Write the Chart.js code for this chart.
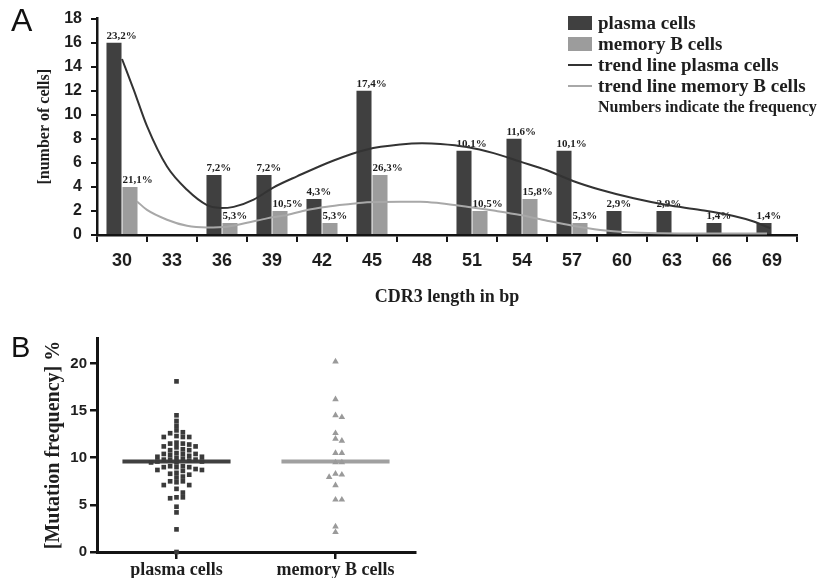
<!DOCTYPE html>
<html>
<head>
<meta charset="utf-8">
<script src="https://cdn.jsdelivr.net/npm/chart.js@4.4.1/dist/chart.umd.min.js"></script>
<style>
  html, body { margin: 0; padding: 0; background: #fff; }
  #page { position: relative; width: 835px; height: 578px; overflow: hidden; }
  #chart-a, #trend-a { position: absolute; left: 0; top: 0; }
  #chart-b { position: absolute; left: 0; top: 320px; }
  .panel-tag { position: absolute; font: 32px "Liberation Sans", Arial, sans-serif; line-height: 1; color: #111; }
  #legend-a { position: absolute; left: 568px; top: 12px; margin: 0; padding: 0; list-style: none;
    font: bold 19px "Liberation Serif", "Times New Roman", serif; color: #1e1e1e; }
  #legend-a li { display: flex; align-items: center; height: 21px; white-space: nowrap; }
  .legend-swatch { display: inline-block; width: 24px; height: 14px; margin-right: 6px; }
  .legend-stroke { display: inline-block; width: 24px; height: 2px; margin-right: 6px; }
  .legend-note { font-size: 16px; padding-left: 30px; }
</style>
</head>
<body>
<div id="page">
  <canvas id="chart-a" width="835" height="310"></canvas>
  <canvas id="trend-a" width="835" height="310"></canvas>
  <canvas id="chart-b" width="440" height="258"></canvas>
  <div class="panel-tag" style="left:11px;top:4px;">A</div>
  <div class="panel-tag" style="left:11px;top:333px;font-size:29px;">B</div>
  <ul id="legend-a"></ul>
</div>
<script>
// panel A: CDR3 length distribution
const cdr3Lengths = ['30', '33', '36', '39', '42', '45', '48', '51', '54', '57', '60', '63', '66', '69'];
const plasmaCounts = [16, 0, 5, 5, 3, 12, 0, 7, 8, 7, 2, 2, 1, 1];
const memoryCounts = [4, 0, 1, 2, 1, 5, 0, 2, 3, 1, 0, 0, 0, 0];
const plasmaFreq = ['23,2%', '', '7,2%', '7,2%', '4,3%', '17,4%', '', '10,1%', '11,6%', '10,1%', '2,9%', '2,9%', '1,4%', '1,4%'];
const memoryFreq = ['21,1%', '', '5,3%', '10,5%', '5,3%', '26,3%', '', '10,5%', '15,8%', '5,3%', '', '', '', ''];

// trend lines (x in bp, y in cells)
const plasmaTrendBp = [30.0, 30.7, 31.5, 32.7, 33.9, 35.1, 35.9, 36.7, 37.9, 39.1, 40.5, 42.7, 44.7, 46.7, 48.0, 49.1, 50.7, 52.3, 53.9, 55.5, 57.1, 58.7, 60.7, 62.7, 64.7, 66.7, 67.9, 68.9];
const plasmaTrendCells = [14.4, 11.9, 8.9, 5.6, 3.7, 2.45, 2.2, 2.3, 2.9, 3.9, 4.8, 6.1, 7.0, 7.4, 7.5, 7.45, 7.2, 6.7, 6.0, 5.3, 4.4, 3.7, 3.0, 2.45, 2.05, 1.55, 1.1, 0.55];
const memoryTrendBp = [30.9, 31.5, 32.7, 33.9, 35.1, 36.3, 37.5, 38.7, 39.9, 41.1, 42.3, 43.7, 44.7, 46.7, 47.9, 49.1, 50.7, 52.3, 53.9, 55.5, 57.1, 58.7, 60.3, 62.3, 65.0, 68.7];
const memoryTrendCells = [2.75, 2.05, 1.25, 0.75, 0.62, 0.68, 1.0, 1.36, 1.64, 2.05, 2.32, 2.54, 2.68, 2.73, 2.73, 2.6, 2.32, 2.0, 1.64, 1.17, 0.74, 0.41, 0.22, 0.14, 0.12, 0.12];

// panel B: mutation frequency per cell
const groupNames = ['plasma cells', 'memory B cells'];
const plasmaMutation = [
  18.1, 14.5, 13.9, 13.4, 12.9, 12.6, 12.7, 12.2, 12.2, 12.3, 12.2,
  11.5, 11.4, 11.5, 11.6, 11.2, 11.1, 11.2, 10.8, 10.9, 10.8,
  10.4, 10.4, 10.3, 10.5, 10.4, 10.1, 10.0, 10.1, 10.2,
  9.8, 9.8, 9.7, 9.9, 9.8, 9.5, 9.6, 9.5, 9.6,
  9.1, 9.0, 9.1, 9.0, 9.0, 8.7, 8.8, 8.7, 8.6, 8.4, 8.3, 8.2,
  7.9, 8.0, 7.5, 7.4, 7.5, 7.1, 7.1, 6.7, 6.3, 5.8, 5.7, 5.8,
  4.8, 4.2, 2.4, 0.0
];
const memoryMutation = [20.2, 16.2, 14.3, 14.5, 12.6, 11.8, 12.0, 10.5, 10.5, 9.5, 9.5, 8.2, 7.95, 8.3, 7.07, 5.55, 5.55, 2.7, 2.1];
const groupMedians = [9.6, 9.6];

const DARK = '#404040';
const LIGHT = '#9c9c9c';
const AXIS = '#141414';
const SANS = '"Liberation Sans", Arial, sans-serif';
const SERIF = '"Liberation Serif", "Times New Roman", serif';

const freqLabels = {
  id: 'freqLabels',
  afterDatasetsDraw(chart) {
    const ctx = chart.ctx;
    ctx.save();
    ctx.font = 'bold 11px ' + SERIF;
    ctx.fillStyle = '#1e1e1e';
    ctx.textAlign = 'left';
    ctx.textBaseline = 'bottom';
    chart.data.datasets.forEach((ds, di) => {
      if (!ds.freq) return;
      chart.getDatasetMeta(di).data.forEach((bar, i) => {
        if (ds.freq[i]) ctx.fillText(ds.freq[i], bar.x - bar.width / 2, bar.y - 1);
      });
    });
    ctx.restore();
  }
};

function points(xs, ys) {
  return xs.map((x, i) => ({ x, y: ys[i] }));
}

// beeswarm-style spread, like a dot plot
function swarm(values, center) {
  const slotStep = 0.04, rowGap = 0.5;
  const placed = [];
  return [...values].sort((a, b) => b - a).map(v => {
    for (let k = 0; ; k++) {
      const slot = k === 0 ? 0 : (k % 2 ? (k + 1) / 2 : -k / 2);
      if (!placed.some(p => p.slot === slot && Math.abs(p.v - v) < rowGap)) {
        placed.push({ slot, v });
        return { x: center + slot * slotStep, y: v };
      }
    }
  });
}

const step = Number(cdr3Lengths[1]) - Number(cdr3Lengths[0]);
const yMaxA = 18;

new Chart(document.getElementById('chart-a'), {
  type: 'bar',
  data: {
    labels: cdr3Lengths,
    datasets: [
      { label: 'plasma cells', data: plasmaCounts, backgroundColor: DARK, freq: plasmaFreq,
        categoryPercentage: 0.64, barPercentage: 0.94 },
      { label: 'memory B cells', data: memoryCounts, backgroundColor: LIGHT, freq: memoryFreq,
        categoryPercentage: 0.64, barPercentage: 0.94 }
    ]
  },
  options: {
    responsive: false,
    animation: false,
    layout: { padding: { top: 15, right: 38, bottom: 0, left: 0 } },
    plugins: { legend: { display: false }, tooltip: { enabled: false } },
    scales: {
      x: {
        grid: { display: true, drawOnChartArea: false, offset: true, tickLength: 7, color: AXIS, lineWidth: 2 },
        border: { color: AXIS, width: 2.5 },
        ticks: { color: '#1e1e1e', padding: 8, maxRotation: 0, font: { family: SANS, size: 18, weight: 'bold' } },
        title: { display: true, text: 'CDR3 length in bp', color: '#1e1e1e', padding: { bottom: 2 }, font: { family: SERIF, size: 18, weight: 'bold' } },
        afterFit: s => { s.height = 75; }
      },
      y: {
        min: 0, max: yMaxA,
        grid: { display: true, drawOnChartArea: false, tickLength: 6, color: AXIS, lineWidth: 2 },
        border: { color: AXIS, width: 2.5 },
        ticks: { stepSize: 2, color: '#1e1e1e', padding: 9, font: { family: SANS, size: 16, weight: 'bold' } },
        title: { display: true, text: '[number of cells]', color: '#1e1e1e', padding: { top: 35 }, font: { family: SERIF, size: 16, weight: 'bold' } },
        afterFit: s => { s.width = 97; }
      }
    }
  },
  plugins: [freqLabels]
});

// trend lines on a transparent overlay with the same plot area (bp on a linear axis)
new Chart(document.getElementById('trend-a'), {
  type: 'line',
  data: {
    datasets: [
      { label: 'trend line plasma cells', data: points(plasmaTrendBp, plasmaTrendCells),
        borderColor: '#333', borderWidth: 2, pointRadius: 0, cubicInterpolationMode: 'monotone' },
      { label: 'trend line memory B cells', data: points(memoryTrendBp, memoryTrendCells),
        borderColor: '#a8a8a8', borderWidth: 2, pointRadius: 0, cubicInterpolationMode: 'monotone' }
    ]
  },
  options: {
    responsive: false,
    animation: false,
    layout: { padding: { top: 15, right: 38, bottom: 75, left: 97 } },
    plugins: { legend: { display: false }, tooltip: { enabled: false } },
    scales: {
      x: {
        type: 'linear', display: false,
        min: Number(cdr3Lengths[0]) - step / 2,
        max: Number(cdr3Lengths[cdr3Lengths.length - 1]) + step / 2
      },
      y: { display: false, min: 0, max: yMaxA }
    }
  }
});

new Chart(document.getElementById('chart-b'), {
  type: 'scatter',
  data: {
    datasets: [
      { type: 'line', data: [{ x: -0.34, y: groupMedians[0] }, { x: 0.34, y: groupMedians[0] }],
        borderColor: DARK, borderWidth: 4, pointRadius: 0, order: 3 },
      { type: 'line', data: [{ x: 1 - 0.34, y: groupMedians[1] }, { x: 1 + 0.34, y: groupMedians[1] }],
        borderColor: '#a0a0a0', borderWidth: 4, pointRadius: 0, order: 3 },
      { label: groupNames[0], data: swarm(plasmaMutation, 0), pointStyle: 'rect', pointRadius: 3.3,
        backgroundColor: '#3a3a3a', borderWidth: 0, clip: false, order: 1 },
      { label: groupNames[1], data: swarm(memoryMutation, 1), pointStyle: 'triangle', pointRadius: 3.8,
        backgroundColor: '#9a9a9a', borderWidth: 0, clip: false, order: 1 }
    ]
  },
  options: {
    responsive: false,
    animation: false,
    layout: { padding: { top: 18, right: 25, bottom: 0, left: 0 } },
    plugins: { legend: { display: false }, tooltip: { enabled: false } },
    scales: {
      x: {
        type: 'linear', min: -0.5, max: 1.5,
        afterBuildTicks: s => { s.ticks = groupNames.map((_, i) => ({ value: i })); },
        grid: { display: true, drawOnChartArea: false, tickLength: 7, color: AXIS, lineWidth: 2.5 },
        border: { color: AXIS, width: 3 },
        ticks: { color: '#1e1e1e', padding: 1, callback: v => groupNames[v], font: { family: SERIF, size: 18, weight: 'bold' } },
        afterFit: s => { s.height = 26; }
      },
      y: {
        min: 0, max: 22.7,
        grid: { display: true, drawOnChartArea: false, tickLength: 7, color: AXIS, lineWidth: 2.5 },
        border: { color: AXIS, width: 3 },
        ticks: { stepSize: 5, includeBounds: false, color: '#1e1e1e', padding: 3, font: { family: SANS, size: 15, weight: 'bold' } },
        title: { display: true, text: '[Mutation frequency] %', color: '#1e1e1e', padding: { top: 42 }, font: { family: SERIF, size: 20, weight: 'bold' } },
        afterFit: s => { s.width = 97; }
      }
    }
  }
});

// legend for panel A
const legendEl = document.getElementById('legend-a');
[
  { kind: 'legend-swatch', color: DARK, text: 'plasma cells' },
  { kind: 'legend-swatch', color: LIGHT, text: 'memory B cells' },
  { kind: 'legend-stroke', color: '#333', text: 'trend line plasma cells' },
  { kind: 'legend-stroke', color: '#a8a8a8', text: 'trend line memory B cells' }
].forEach(item => {
  const li = document.createElement('li');
  const mark = document.createElement('span');
  mark.className = item.kind;
  mark.style.backgroundColor = item.color;
  const name = document.createElement('span');
  name.textContent = item.text;
  li.append(mark, name);
  legendEl.appendChild(li);
});
const note = document.createElement('li');
note.className = 'legend-note';
note.textContent = 'Numbers indicate the frequency';
legendEl.appendChild(note);
</script>
</body>
</html>
